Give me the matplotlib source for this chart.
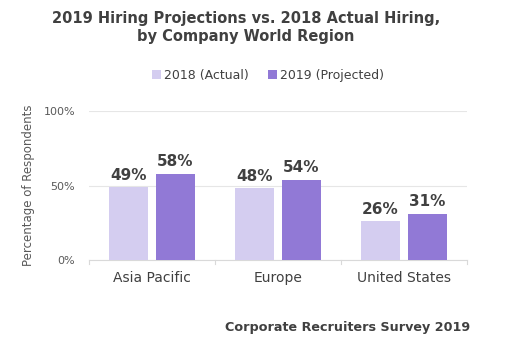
import matplotlib
matplotlib.use("Agg")
import matplotlib.pyplot as plt
import numpy as np

categories = ["Asia Pacific", "Europe", "United States"]
series_names = ["2018 (Actual)", "2019 (Projected)"]
actual_2018 = [49, 48, 26]
projected_2019 = [58, 54, 31]
yticks = [0, 50, 100]
ytick_labels = ["0%", "50%", "100%"]

colors = ["#d4cdf0", "#9179d6"]
text_dark = "#404040"
grid_c = "#e6e6e6"

fig = plt.figure(figsize=(5.14, 3.52), dpi=100)
ax = fig.add_axes([89/514, 1-260/352, (467-89)/514, (260-111)/352])

x = np.arange(len(categories))
w = 0.31
off = 0.186
b1 = ax.bar(x - off, actual_2018, w, color=colors[0], label=series_names[0], zorder=3)
b2 = ax.bar(x + off, projected_2019, w, color=colors[1], label=series_names[1], zorder=3)

for bars in (b1, b2):
    for r in bars:
        ax.text(r.get_x() + r.get_width()/2, r.get_height() + 3, f"{int(r.get_height())}%",
                ha="center", va="bottom", fontsize=11, fontweight="bold", color=text_dark)

ax.set_xlim(-0.5, len(categories) - 0.5)
ax.set_ylim(0, 100)
ax.set_yticks(yticks)
ax.set_yticklabels(ytick_labels, fontsize=8, color="#595959")
ax.set_xticks(x)
ax.set_xticklabels(categories, fontsize=10, color=text_dark)
ax.tick_params(axis="x", length=0, pad=8)
ax.tick_params(axis="y", length=0, pad=10)
for b in [-0.5, 0.5, 1.5, 2.5]:
    ax.plot([b, b], [0, -3], color="#d9d9d9", lw=0.8, clip_on=False, zorder=2)
for s in ["left", "right", "top"]:
    ax.spines[s].set_visible(False)
ax.spines["bottom"].set_color("#d9d9d9")
ax.spines["bottom"].set_linewidth(0.8)
ax.yaxis.grid(True, color=grid_c, lw=0.8, zorder=0)
ax.set_axisbelow(True)
ax.set_ylabel("Percentage of Respondents", fontsize=8.5, color="#595959", labelpad=6)

fig.text(0.5 * (57+435)/514, 1-27/352, "2019 Hiring Projections vs. 2018 Actual Hiring,\nby Company World Region",
         ha="center", va="center", fontsize=10.5, fontweight="bold", color=text_dark, linespacing=1.25)

fig.legend(handles=[b1, b2], labels=series_names, loc="center", bbox_to_anchor=(268/514, 1-75/352),
           ncol=2, frameon=False, fontsize=9, handlelength=0.7, handleheight=0.7,
           handletextpad=0.3, columnspacing=1.5, labelcolor=text_dark)

fig.text(470/514, 1-327/352, "Corporate Recruiters Survey 2019", ha="right", va="center",
         fontsize=9.2, fontweight="bold", color=text_dark)

fig.savefig("out.png", dpi=100)
